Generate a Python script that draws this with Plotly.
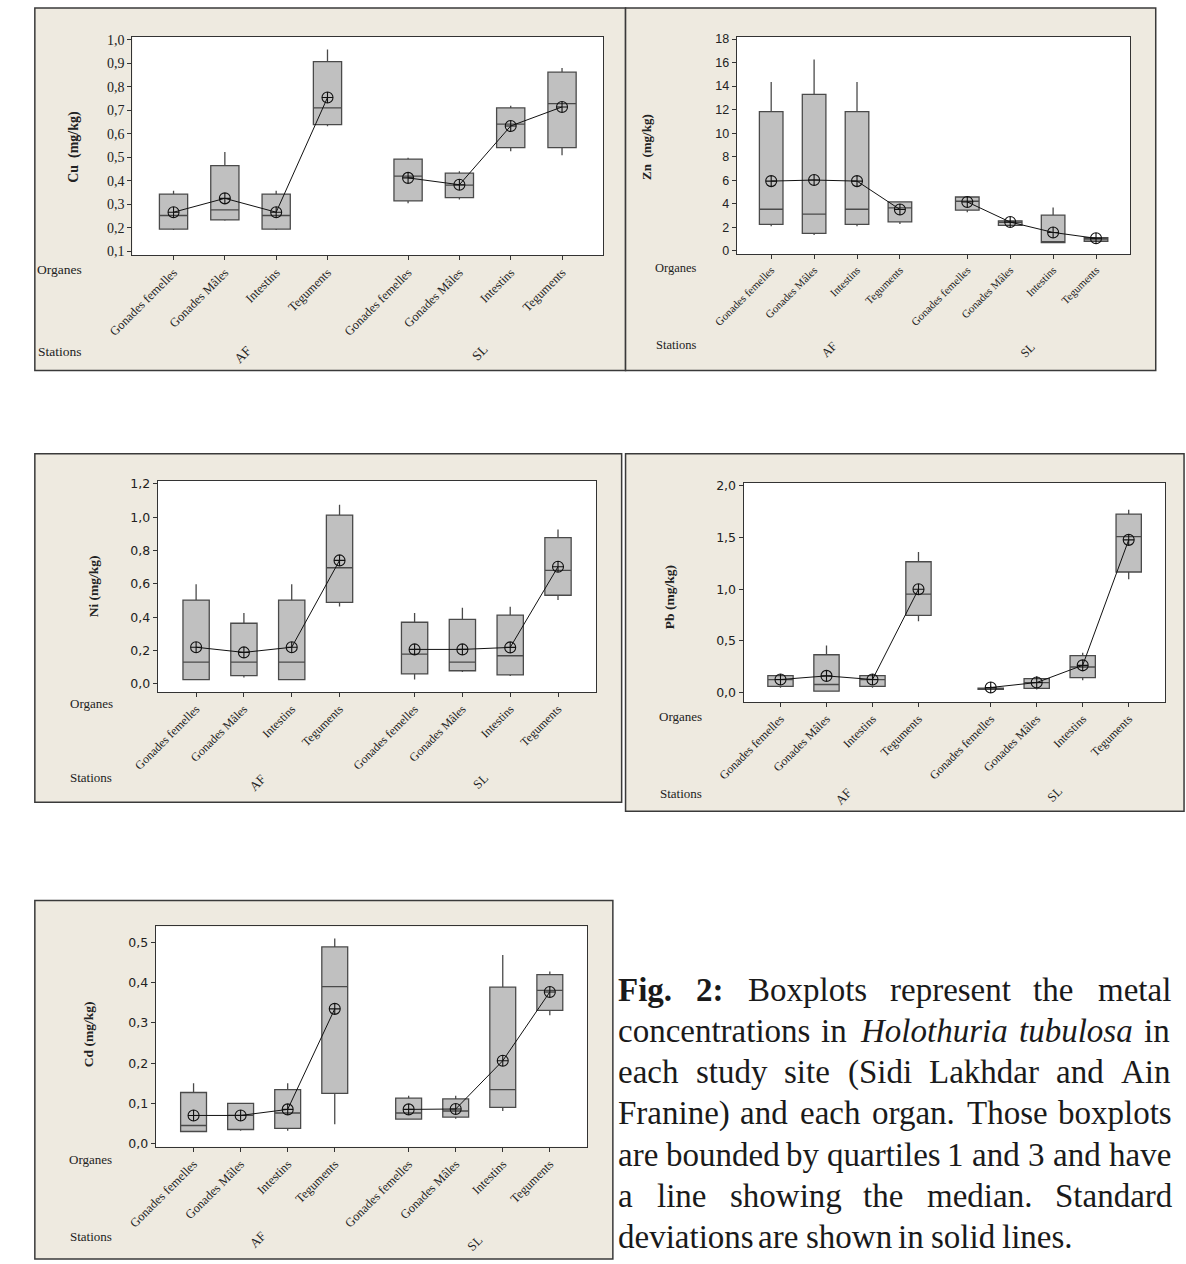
import plotly.graph_objects as go

W, H = 1186, 1264

# ---------------- data ----------------
organs = ["Gonades femelles", "Gonades Mâles", "Intestins", "Teguments"]
stations = ["AF", "SL"]

cu_lo = [0.19, 0.23, 0.19, 0.632, 0.304, 0.32, 0.525, 0.508]
cu_q1 = [0.194, 0.233, 0.194, 0.639, 0.314, 0.328, 0.541, 0.541]
cu_med = [0.252, 0.276, 0.252, 0.71, 0.42, 0.381, 0.641, 0.728]
cu_q3 = [0.343, 0.464, 0.343, 0.907, 0.492, 0.432, 0.71, 0.862]
cu_hi = [0.357, 0.522, 0.357, 0.958, 0.498, 0.44, 0.719, 0.88]
cu_mean = [0.266, 0.325, 0.266, 0.754, 0.412, 0.383, 0.633, 0.714]

zn_lo = [2.1, 1.35, 2.1, 2.28, 3.29, 2.11, 0.7, 0.76]
zn_q1 = [2.25, 1.49, 2.25, 2.47, 3.46, 2.17, 0.70, 0.82]
zn_med = [3.54, 3.12, 3.54, 3.66, 4.22, 2.42, 0.76, 1.01]
zn_q3 = [11.84, 13.3, 11.84, 4.16, 4.58, 2.56, 3.04, 1.12]
zn_hi = [14.34, 16.25, 14.34, 4.2, 4.64, 2.64, 3.68, 1.18]
zn_mean = [5.93, 6.02, 5.93, 3.52, 4.16, 2.45, 1.57, 1.07]

ni_lo = [0.022, 0.038, 0.022, 0.465, 0.026, 0.072, 0.048, 0.503]
ni_q1 = [0.026, 0.05, 0.026, 0.489, 0.06, 0.079, 0.054, 0.532]
ni_med = [0.131, 0.131, 0.131, 0.697, 0.179, 0.131, 0.169, 0.681]
ni_q3 = [0.503, 0.364, 0.503, 1.013, 0.37, 0.387, 0.413, 0.878]
ni_hi = [0.598, 0.425, 0.598, 1.075, 0.425, 0.457, 0.463, 0.926]
ni_mean = [0.22, 0.189, 0.22, 0.741, 0.207, 0.207, 0.219, 0.703]

pb_lo = [0.048, 0.01, 0.048, 0.69, 0.026, 0.032, 0.121, 1.096]
pb_q1 = [0.061, 0.016, 0.061, 0.748, 0.032, 0.042, 0.147, 1.166]
pb_med = [0.128, 0.08, 0.128, 0.952, 0.038, 0.099, 0.249, 1.508]
pb_q3 = [0.166, 0.367, 0.166, 1.265, 0.045, 0.137, 0.358, 1.725]
pb_hi = [0.18, 0.457, 0.18, 1.358, 0.067, 0.16, 0.387, 1.767]
pb_mean = [0.128, 0.163, 0.128, 1.0, 0.051, 0.099, 0.265, 1.476]

cd_lo = [0.029, 0.032, 0.032, 0.048, 0.059, 0.062, 0.081, 0.319]
cd_q1 = [0.03, 0.035, 0.038, 0.125, 0.061, 0.066, 0.09, 0.331]
cd_med = [0.045, 0.07, 0.076, 0.39, 0.076, 0.081, 0.134, 0.381]
cd_q3 = [0.127, 0.1, 0.134, 0.489, 0.113, 0.111, 0.389, 0.42]
cd_hi = [0.15, 0.101, 0.15, 0.51, 0.119, 0.119, 0.469, 0.428]
cd_mean = [0.07, 0.07, 0.085, 0.335, 0.085, 0.086, 0.206, 0.377]

caption_lines = [
    "Fig. 2: Boxplots represent the metal",
    "concentrations in Holothuria tubulosa in",
    "each study site (Sidi Lakhdar and Ain",
    "Franine) and each organ. Those boxplots",
    "are bounded by quartiles 1 and 3 and have",
    "a line showing the median. Standard",
    "deviations are shown in solid lines.",
]
caption_bold = ["Fig.", "2:"]
caption_italic = ["Holothuria", "tubulosa"]

# ---------------- layout helpers ----------------
GAP = 0.57  # extra spacing between station groups (layout)
positions = [i + 1 + s * (len(organs) + GAP) for s in range(len(stations)) for i in range(len(organs))]
ticktext = organs * len(stations)


def px_x(p):
    return p / W


def px_y(p):
    return 1 - p / H


panels = [
    dict(title="Cu\u00a0\u00a0(mg/kg)", data=(cu_lo, cu_q1, cu_med, cu_q3, cu_hi, cu_mean),
         frame=(7, 3, 612, 368), plot=(107, 32, 589, 252), yr=(0.083, 1.0127), dtick=0.1, tick0=0.1, fmt=".1f",
         yfont=dict(family="Liberation Serif", size=14), xfont=12.5, lab=13.5, tfont=14,
         org=(32, 266), sta=(33, 349), af=(220, 352), sl=(463, 350), yt=(47, 143)),
    dict(title="Zn\u00a0\u00a0(mg/kg)", data=(zn_lo, zn_q1, zn_med, zn_q3, zn_hi, zn_mean),
         frame=(612, 3, 1155, 368), plot=(726, 32, 1129, 251), yr=(-0.28, 18.19), dtick=2, tick0=0, fmt="d",
         yfont=dict(family="Liberation Sans", size=12.5), xfont=11, lab=12.5, tfont=13,
         org=(664, 265), sta=(664, 342), af=(820, 347), sl=(1024, 347), yt=(634, 143)),
    dict(title="Ni (mg/kg)", data=(ni_lo, ni_q1, ni_med, ni_q3, ni_hi, ni_mean),
         frame=(7, 452, 608, 803), plot=(133, 479, 582, 692), yr=(-0.049, 1.22), dtick=0.2, tick0=0, fmt=".1f",
         yfont=dict(family="DejaVu Sans", size=12.5), xfont=12, lab=13, tfont=13.5,
         org=(65, 704), sta=(65, 778), af=(235, 783), sl=(463, 782), yt=(67, 585)),
    dict(title="Pb (mg/kg)", data=(pb_lo, pb_q1, pb_med, pb_q3, pb_hi, pb_mean),
         frame=(612, 452, 1184, 812), plot=(733, 481, 1165, 702), yr=(-0.089, 2.029), dtick=0.5, tick0=0, fmt=".1f",
         yfont=dict(family="DejaVu Sans", size=12.5), xfont=12, lab=13, tfont=13.5,
         org=(668, 717), sta=(669, 794), af=(835, 797), sl=(1051, 795), yt=(657, 596)),
    dict(title="Cd (mg/kg)", data=(cd_lo, cd_q1, cd_med, cd_q3, cd_hi, cd_mean),
         frame=(7, 902, 599, 1263), plot=(131, 928, 573, 1150), yr=(-0.008, 0.54), dtick=0.1, tick0=0, fmt=".1f",
         yfont=dict(family="DejaVu Sans", size=12.5), xfont=12.5, lab=13, tfont=13.5,
         org=(64, 1163), sta=(65, 1240), af=(235, 1243), sl=(457, 1247), yt=(62, 1037)),
]

# caption text block geometry (px) and Times/Liberation Serif advance widths (em)
CAP_L, CAP_R, CAP_FS = 603, 1168, 33
CAP_BASE0, CAP_LEAD = 1003, 41.5
W_REG = dict(zip("abcdefghijklmnopqrstuvwxyz", [.444, .5, .444, .5, .444, .333, .5, .5, .278, .278, .5, .278, .778,
                                                 .5, .5, .5, .5, .333, .389, .278, .5, .5, .722, .5, .5, .444]))
W_REG.update({"A": .722, "B": .667, "C": .667, "D": .722, "E": .611, "F": .556, "G": .722, "H": .722, "I": .333,
              "L": .611, "S": .556, "T": .611, "(": .333, ")": .333, ".": .25, ",": .25, ":": .278,
              "1": .5, "2": .5, "3": .5, " ": .25})
W_BOLD = dict(W_REG)
W_BOLD.update({"F": .611, ":": .333, "2": .5, "g": .5, "i": .278, ".": .25})
W_ITAL = dict(W_REG)
W_ITAL.update({"a": .5, "r": .389, "b": .5, "o": .5, "u": .5, "s": .389})


def word_width(w, table):
    return sum(table.get(c, .5) for c in w) * CAP_FS


BEIGE = "#eeeae0"
FRAME = "#3a3a3a"
BOXFILL = "#c0c0c0"
BOXLINE = "#4a4a4a"
SERIF = "Liberation Serif"

fig = go.Figure()
shapes = []
annotations = []

for k, p in enumerate(panels):
    sfx = "" if k == 0 else str(k + 1)
    xa, ya = "x" + sfx, "y" + sfx
    lo, q1, med, q3, hi, mean = p["data"]

    fig.add_trace(go.Box(
        x=positions, q1=q1, median=med, q3=q3, lowerfence=lo, upperfence=hi,
        boxpoints=False, width=0.55, whiskerwidth=0,
        fillcolor=BOXFILL, line=dict(color=BOXLINE, width=1.3),
        xaxis=xa, yaxis=ya, showlegend=False, hoverinfo="skip",
    ))

    mx, my = [], []
    for s in range(len(stations)):
        for i in range(len(organs)):
            j = s * len(organs) + i
            mx.append(positions[j])
            my.append(mean[j])
        mx.append(None)
        my.append(None)
    fig.add_trace(go.Scatter(
        x=mx, y=my, mode="lines+markers", connectgaps=False,
        line=dict(color="#111111", width=1),
        marker=dict(symbol="circle-cross-open", size=11, color="#111111", line=dict(width=1.1)),
        xaxis=xa, yaxis=ya, showlegend=False, hoverinfo="skip",
    ))

    fx0, fy0, fx1, fy1 = p["frame"]
    shapes.append(dict(type="rect", xref="paper", yref="paper",
                       x0=px_x(fx0), x1=px_x(fx1), y0=px_y(fy1), y1=px_y(fy0),
                       fillcolor=BEIGE, line=dict(color=FRAME, width=1.5), layer="below"))
    px0, py0, px1, py1 = p["plot"]
    shapes.append(dict(type="rect", xref="paper", yref="paper",
                       x0=px_x(px0), x1=px_x(px1), y0=px_y(py1), y1=px_y(py0),
                       fillcolor="white", line=dict(width=0), layer="below"))

    axis_common = dict(showline=True, mirror=True, linecolor="#333333", linewidth=1.3,
                       showgrid=False, zeroline=False, ticks="outside", ticklen=4,
                       tickcolor="#333333", tickwidth=1)
    fig.update_layout(**{
        ("xaxis" + sfx): dict(domain=[px_x(px0), px_x(px1)], anchor=ya,
                             range=[0.2, 9.37], tickmode="array", tickvals=positions,
                             ticktext=ticktext, tickangle=-45,
                             tickfont=dict(family=SERIF, size=p["xfont"], color="#222222"),
                             **axis_common),
        ("yaxis" + sfx): dict(domain=[px_y(py1), px_y(py0)], anchor=xa,
                             range=list(p["yr"]), tick0=p["tick0"], dtick=p["dtick"],
                             tickformat=p["fmt"],
                             tickfont=dict(family=p["yfont"]["family"], size=p["yfont"]["size"], color="#222222"),
                             **axis_common),
    })

    def ann(text, xy, size, angle=0, bold=False, xanchor="center"):
        annotations.append(dict(
            text=("<b>%s</b>" % text) if bold else text,
            x=px_x(xy[0]), y=px_y(xy[1]), xref="paper", yref="paper",
            xanchor=xanchor, yanchor="middle", showarrow=False, textangle=angle,
            font=dict(family=SERIF, size=size, color="#222222"),
        ))

    ann("Organes", p["org"], p["lab"])
    ann("Stations", p["sta"], p["lab"])
    ann(stations[0], p["af"], p["lab"], angle=-45)
    ann(stations[1], p["sl"], p["lab"], angle=-45)
    ann(p["title"], p["yt"], p["tfont"], angle=-90, bold=True)

# caption: justified paragraph, last line ragged
for li, line in enumerate(caption_lines):
    words = line.split(" ")
    styled = []
    for w in words:
        if w in caption_bold:
            styled.append(("<b>%s</b>" % w, word_width(w, W_BOLD)))
        elif w in caption_italic:
            styled.append(("<i>%s</i>" % w, word_width(w, W_ITAL)))
        else:
            styled.append((w, word_width(w, W_REG)))
    last = li == len(caption_lines) - 1
    total = sum(wd for _, wd in styled)
    gap = 0.25 * CAP_FS if last else (CAP_R - CAP_L - total) / (len(styled) - 1)
    x = CAP_L
    yc = CAP_BASE0 + li * CAP_LEAD - 0.34 * CAP_FS
    for txt, wd in styled:
        annotations.append(dict(
            text=txt, x=px_x(x), y=px_y(yc), xref="paper", yref="paper",
            xanchor="left", yanchor="middle", showarrow=False, borderpad=0,
            font=dict(family=SERIF, size=CAP_FS, color="#1a1a1a"),
        ))
        x += wd + gap

fig.update_layout(
    width=W, height=H, margin=dict(l=0, r=0, t=0, b=0),
    paper_bgcolor="white", plot_bgcolor="white",
    separators=", ", shapes=shapes, annotations=annotations, showlegend=False,
)

fig.write_html("out.html", config={"displayModeBar": False},
               post_script="document.body.style.margin='0';")
